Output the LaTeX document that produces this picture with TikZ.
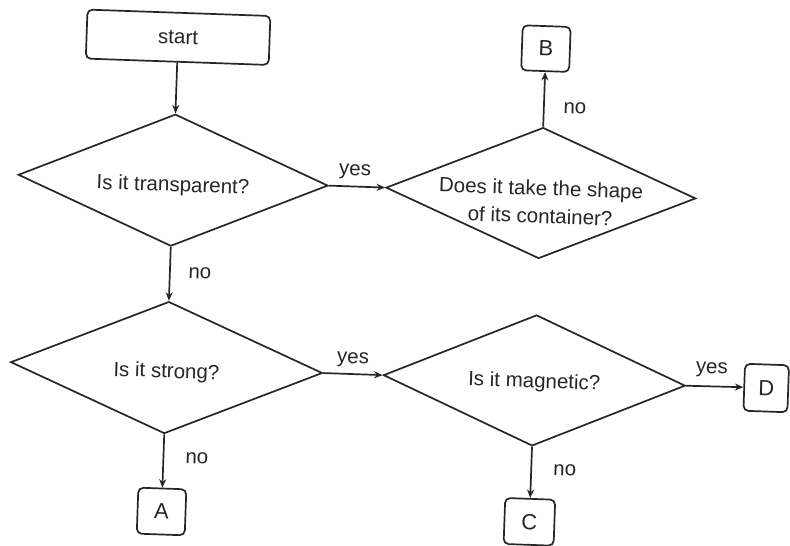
\documentclass[tikz,border=0pt]{standalone}
\usepackage{fontspec}
\setmainfont{Liberation Sans}
\usetikzlibrary{shapes.geometric,arrows.meta}
\begin{document}
\begin{tikzpicture}[x=1bp,y=1bp,
  line/.style={draw=black!85, line width=1.7bp},
  conn/.style={line, -{Stealth[length=8.5bp,width=7bp]}},
  box/.style={line, rounded corners=5bp, inner sep=0pt, text=black!85,
    font=\fontsize{22bp}{26bp}\selectfont},
  dia/.style={line, diamond, aspect=2.3, inner sep=0pt},
  lab/.style={font=\fontsize{20.5bp}{28bp}\selectfont, text=black!85, inner sep=0pt, align=center},
]
\useasboundingbox (0,0) rectangle (790,546);
\fill[white] (0,0) rectangle (790,546);
\begin{scope}[rotate around={-2:(395,273)}, transform shape]
  % boxes
  \node[box, minimum width=183bp, minimum height=49bp,
        font=\fontsize{20.5bp}{24bp}\selectfont] (start) at (170,501) {start};
  \node[box, minimum width=48bp, minimum height=45bp] (B) at (538,502.5) {B};
  \node[box, minimum width=48bp, minimum height=46bp] (A) at (170,26.5) {A};
  \node[box, minimum width=50bp, minimum height=46bp] (C) at (538,29) {C};
  \node[box, minimum width=44bp, minimum height=47bp] (D) at (770,171) {D};
  % decisions
  \node[dia, minimum width=310bp, minimum height=132bp,
        label={[lab, yshift=-6bp]center:Is it transparent?}] (d1) at (170,358) {};
  \node[dia, minimum width=310bp, minimum height=131bp,
        label={[lab, yshift=-9bp]center:Does it take the shape\\of its container?}] (d2) at (538,358) {};
  \node[dia, minimum width=312bp, minimum height=132bp,
        label={[lab, yshift=-5bp]center:Is it strong?}] (d3) at (170,170.5) {};
  \node[dia, minimum width=302bp, minimum height=131bp,
        label={[lab, yshift=-2bp]center:Is it magnetic?}] (d4) at (538,170.5) {};
  % connectors
  \draw[conn] (start.south) -- (d1.north);
  \draw[conn] (d1.east) -- (d2.west);
  \draw[conn] (d2.north) -- (B.south);
  \draw[conn] (d1.south) -- (d3.north);
  \draw[conn] (d3.east) -- (d4.west);
  \draw[conn] (d4.east) -- (D.west);
  \draw[conn] (d3.south) -- (A.north);
  \draw[conn] (d4.south) -- (C.north);
  % connector labels
  \node[lab] (l1) at (351.5,372.5) {yes};
  \node[lab] (l2) at (569,444) {no};
  \node[lab] (l3) at (200,266) {no};
  \node[lab] (l4) at (356,184.5) {yes};
  \node[lab] (l5) at (715,187) {yes};
  \node[lab] (l6) at (203.5,81) {no};
  \node[lab] (l7) at (571.5,82) {no};
\end{scope}
\end{tikzpicture}
\end{document}
